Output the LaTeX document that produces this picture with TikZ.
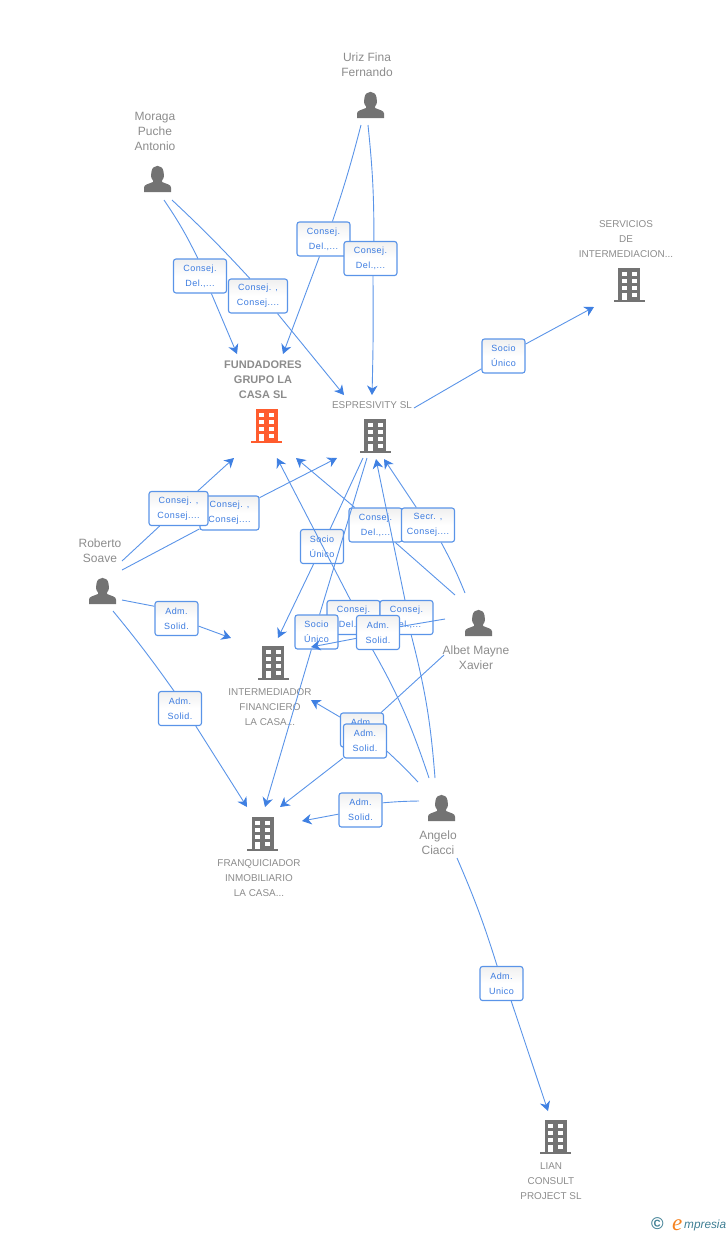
\documentclass[tikz,border=0pt]{standalone}
\usepackage{fontspec}
\setmainfont{Liberation Sans}
\newfontfamily\boxfont[LetterSpace=5]{Liberation Sans}
\newfontfamily\logofont{Liberation Serif}
\usetikzlibrary{positioning, arrows.meta}
\definecolor{linkblue}{HTML}{5A94E8}
\definecolor{tipblue}{HTML}{3F80E2}
\definecolor{boxtext}{HTML}{3B7BE0}
\definecolor{labelgray}{HTML}{8C8C8C}
\definecolor{icongray}{HTML}{737373}
\definecolor{mainorange}{HTML}{FF5C2E}
\definecolor{logoteal}{HTML}{3F7F94}
\definecolor{logoorange}{HTML}{F58220}

\begin{document}
\begin{tikzpicture}[
    x=1pt, y=-1pt,
    role/.style={rectangle, draw=linkblue, line width=1.1pt, top color=black!6, bottom color=white, middle color=white, rounded corners=2.5pt, inner sep=0pt, minimum height=34pt, text=boxtext, align=center, font=\boxfont\fontsize{9}{15}\selectfont},
    narrow/.style={role, minimum width=43pt},
    medium/.style={role, minimum width=53pt},
    wide/.style={role, minimum width=59pt},
    person/.style={text=labelgray, align=center, inner sep=0pt, font=\fontsize{12}{15}\selectfont},
    company/.style={text=labelgray, align=center, inner sep=0pt, font=\fontsize{9.9}{15}\selectfont},
    link/.style={draw=linkblue, line width=0.9pt},
    arrow/.style={link, -{Stealth[length=9.5pt, width=10.5pt, inset=3pt, color=tipblue]}},
    personicon/.pic={
        \fill[icongray] (-13.5,13.5) -- (-13.5,9) .. controls (-13.5,6) and (-9,5.5) .. (-4.5,3.5) -- (-4.5,2) .. controls (-7,-1) and (-6.5,-3) .. (-6,-7) .. controls (-5,-14.5) and (5,-14.5) .. (6,-7) .. controls (6.5,-3) and (7,-1) .. (4.5,2) -- (4.5,3.5) .. controls (9,5.5) and (13.5,6) .. (13.5,9) -- (13.5,13.5) -- cycle;
    },
    buildingicon/.pic={
        \fill[pic actions] (-11,-17) rectangle (11,15);
        \fill[pic actions] (-15.5,14.5) rectangle (15.5,17);
        \foreach \wy in {-13.5,-6.5,0.5} {
            \fill[white] (-7.5,\wy) rectangle ++(5,4.5);
            \fill[white] (2.5,\wy) rectangle ++(5,4.5);
        }
        \fill[white] (-7.5,7.5) rectangle ++(5,7);
        \fill[white] (2.5,7.5) rectangle ++(5,4.5);
    }
]
\useasboundingbox (0,0) rectangle (728,1235);

% Persons
\pic at (370.5,104.5) {personicon};
\pic at (157.5,178.5) {personicon};
\pic at (102.5,590.5) {personicon};
\pic at (478.5,622.5) {personicon};
\pic at (441.5,807.5) {personicon};
\node[person] (uriz) at (367,65) {Uriz Fina\\Fernando};
\node[person] (moraga) at (155,131) {Moraga\\Puche\\Antonio};
\node[person] (roberto) at (100,551) {Roberto\\Soave};
\node[person] (albet) at (476,658) {Albet Mayne\\Xavier};
\node[person] (angelo) at (438,843) {Angelo\\Ciacci};

% Companies
\pic[fill=mainorange] at (266.5,426) {buildingicon};
\pic[fill=icongray] at (375,436) {buildingicon};
\pic[fill=icongray] at (629,285) {buildingicon};
\pic[fill=icongray] at (273,663) {buildingicon};
\pic[fill=icongray] at (262.5,834) {buildingicon};
\pic[fill=icongray] at (555.5,1137) {buildingicon};
\node[company, font=\bfseries\fontsize{11}{15}\selectfont] (fundadores) at (263,380) {FUNDADORES\\GRUPO LA\\CASA SL};
\node[company] (espresivity) at (372,405) {ESPRESIVITY SL};
\node[company] (servicios) at (626,239) {SERVICIOS\\DE\\INTERMEDIACION...};
\node[company] (intermediador) at (270,707) {INTERMEDIADOR\\FINANCIERO\\LA CASA...};
\node[company] (franquiciador) at (259,878) {FRANQUICIADOR\\INMOBILIARIO\\LA CASA...};
\node[company] (lian) at (551,1181) {LIAN\\CONSULT\\PROJECT SL};

% Free ends
\coordinate (u1) at (361,125);
\coordinate (u2) at (368,125);
\coordinate (m1) at (164,200);
\coordinate (m2) at (172,200);
\coordinate (e0) at (414,408);
\coordinate (e1) at (363,458);
\coordinate (e2) at (367,458);
\coordinate (r1) at (122,561);
\coordinate (r2) at (122,570);
\coordinate (r3) at (122,600);
\coordinate (r4) at (113,611);
\coordinate (a1) at (455,595);
\coordinate (a2) at (465,593);
\coordinate (a3) at (445,619);
\coordinate (a4) at (444,655);
\coordinate (c1) at (429,778);
\coordinate (c2) at (435,778);
\coordinate (c3) at (418,782);
\coordinate (c4) at (419,801);
\coordinate (c5) at (457,858);
\coordinate (tf1) at (283,354);
\coordinate (tf2) at (237,354);
\coordinate (tf3) at (234,458);
\coordinate (tf4) at (296,458);
\coordinate (tf5) at (277,458);
\coordinate (te1) at (372,395);
\coordinate (te2) at (344,395);
\coordinate (te3) at (337,458);
\coordinate (te4) at (384,459);
\coordinate (te5) at (376,459);
\coordinate (ts) at (594,307);
\coordinate (ti1) at (231,638);
\coordinate (ti2) at (278,638);
\coordinate (ti3) at (311,647);
\coordinate (ti4) at (311,700);
\coordinate (tq1) at (247,807);
\coordinate (tq2) at (265,807);
\coordinate (tq3) at (280,807);
\coordinate (tq4) at (302,821);
\coordinate (tl) at (548,1111);

% Uriz Fina Fernando
\node[medium] (b1) at (323.5,239) {Consej.\\Del.,...};
\draw[link] (u1) to[bend left=2] (b1.63);
\draw[arrow] (b1.-103) -- (tf1);
\node[medium] (b2) at (370.5,258.5) {Consej.\\Del.,...};
\draw[link] (u2) to[bend left=3] (b2.79);
\draw[arrow] (b2.-82) to[bend left=1] (te1);

% Moraga Puche Antonio
\node[medium] (b3) at (200,276) {Consej.\\Del.,...};
\draw[link] (m1) to[bend left=4] (b3.97);
\draw[arrow] (b3.-57) -- (tf2);
\node[wide] (b4) at (258,296) {Consej. ,\\Consej....};
\draw[link] (m2) to[bend left=2] (b4.115);
\draw[arrow] (b4.-42) -- (te2);

% Espresivity SL to Servicios
\node[narrow] (b5) at (503.5,356) {Socio\\Único};
\draw[link] (e0) -- (b5);
\draw[arrow] (b5) -- (ts);

% Roberto Soave
\node[wide] (b7) at (229.5,513) {Consej. ,\\Consej....};
\draw[link] (r2) -- (b7);
\draw[arrow] (b7) -- (te3);
\node[wide] (b6) at (178.5,508.5) {Consej. ,\\Consej....};
\draw[link] (r1) -- (b6);
\draw[arrow] (b6) -- (tf3);
\node[narrow] (b8) at (176.5,618.5) {Adm.\\Solid.};
\draw[link] (r3) -- (b8.151);
\draw[arrow] (b8.-19) -- (ti1);
\node[narrow] (b9) at (180,708.5) {Adm.\\Solid.};
\draw[link] (r4) to[bend left=2] (b9.109);
\draw[arrow] (b9.-48) -- (tq1);

% Albet Mayne Xavier
\node[medium] (b10) at (375.5,525) {Consej.\\Del.,...};
\draw[link] (a1) -- (b10);
\draw[arrow] (b10) -- (tf4);
\node[medium] (b11) at (428,525) {Secr. ,\\Consej....};
\draw[link] (a2) to[bend right=3] (b11.-53);
\draw[arrow] (b11) -- (te4);

% Angelo Ciacci and Espresivity SL
\node[narrow] (b12) at (322,546.5) {Socio\\Único};
\draw[link] (e1) -- (b12);
\draw[arrow] (b12) -- (ti2);
\node[medium] (b13) at (353.5,617.5) {Consej.\\Del.,...};
\draw[link] (c1) to[bend right=6] (b13);
\draw[arrow] (b13.100) -- (tf5);
\node[medium] (b14) at (406.5,617.5) {Consej.\\Del.,...};
\draw[link] (c2) to[bend right=5] (b14);
\draw[arrow] (b14.95) -- (te5);
\node[narrow] (b15) at (316.5,632) {Socio\\Único};
\draw[link] (e2) -- (b15.80);
\draw[arrow] (b15) -- (tq2);
\node[narrow] (b16) at (378,632.5) {Adm.\\Solid.};
\draw[link] (a3) -- (b16.15);
\draw[arrow] (b16.195) -- (ti3);
\node[narrow] (b17) at (362,730) {Adm.\\Solid.};
\draw[link] (a4) -- (b17);
\draw[arrow] (b17) -- (ti4);
\node[narrow] (b18) at (365,741) {Adm.\\Solid.};
\draw[link] (c3) to[bend right=2] (b18.-25);
\draw[arrow] (b18) -- (tq3);
\node[narrow] (b19) at (360.5,810) {Adm.\\Solid.};
\draw[link] (c4) to[bend right=2] (b19.18);
\draw[arrow] (b19) -- (tq4);
\node[narrow] (b20) at (501.5,983.5) {Adm.\\Unico};
\draw[link] (c5) to[bend left=3] (b20.104);
\draw[arrow] (b20.-61) -- (tl);

% Logo
\node[text=logoteal, inner sep=0pt, font=\bfseries\fontsize{17}{17}\selectfont] (copyright) at (657.5,1224) {©};
\node[inner sep=0pt, anchor=base west, text=logoorange, font=\logofont\itshape\fontsize{23}{23}\selectfont] (logoe) at (672,1230) {e};
\node[inner sep=0pt, anchor=base west, text=logoteal, font=\itshape\fontsize{11.8}{12}\selectfont] (logotext) at (684,1228) {mpresia};
\end{tikzpicture}
\end{document}
